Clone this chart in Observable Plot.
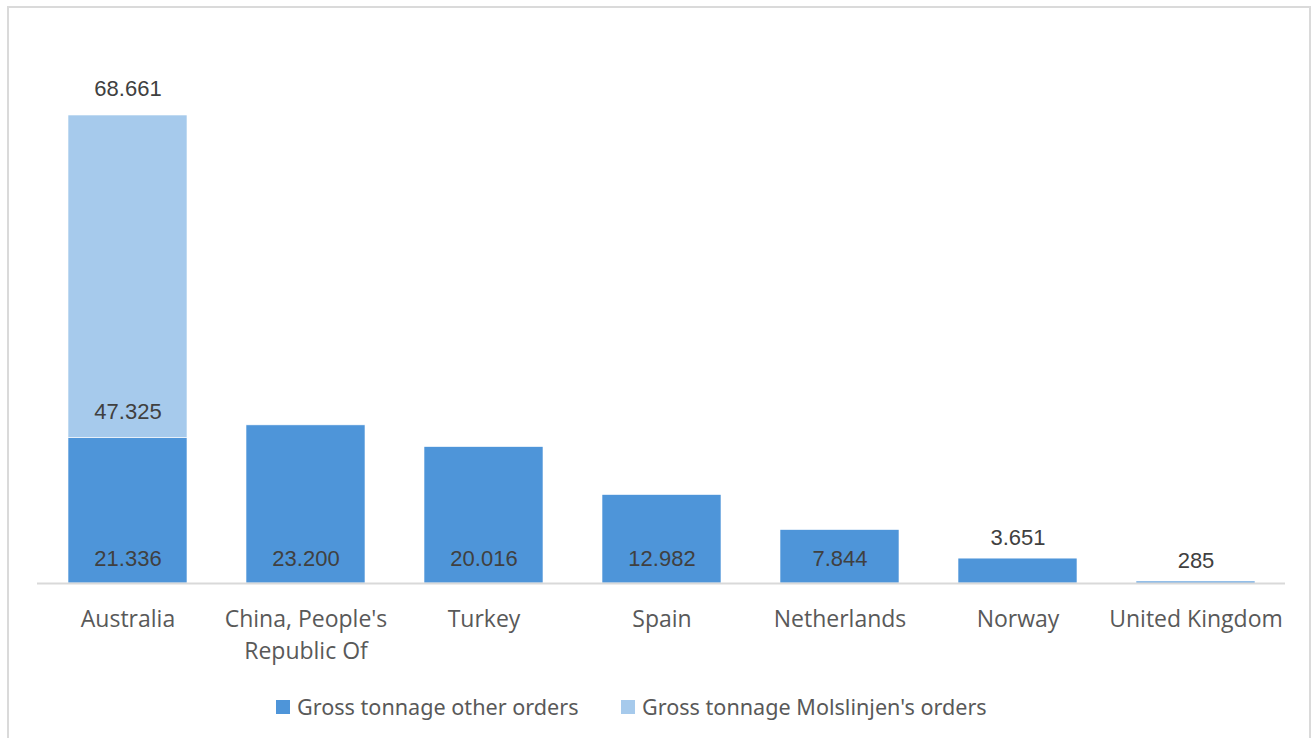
<!DOCTYPE html>
<html>
<head>
<meta charset="utf-8">
<script src="https://cdn.jsdelivr.net/npm/d3@7"></script>
<script src="https://cdn.jsdelivr.net/npm/@observablehq/plot@0.6"></script>
<style>
  html, body { margin: 0; padding: 0; background: #fff; }
  #wrap { position: relative; width: 1314px; height: 738px; overflow: hidden; background: #fff; }
  #frame { position: absolute; left: 7px; top: 6px; width: 1304px; height: 760px; border: 2px solid #dadada; box-sizing: border-box; }
  #chart { position: absolute; left: 0; top: 0; }
  .leg { position: absolute; top: 692px; display: flex; align-items: center; font-family: "Noto Sans", sans-serif; font-size: 21.6px; color: #595959; white-space: nowrap; }
  .sw { width: 14px; height: 14px; margin-right: 7px; }
</style>
</head>
<body>
<div id="wrap">
  <div id="frame"></div>
  <div id="chart"></div>
  <div id="legend"></div>
</div>
<script>
const countries = ["Australia", "China, People's Republic Of", "Turkey", "Spain", "Netherlands", "Norway", "United Kingdom"];
const axisLabels = ["Australia", "China, People's\nRepublic Of", "Turkey", "Spain", "Netherlands", "Norway", "United Kingdom"];
const otherOrders = [21336, 23200, 20016, 12982, 7844, 3651, 285];
const molslinjenOrders = [47325, 0, 0, 0, 0, 0, 0];
const seriesNames = ["Gross tonnage other orders", "Gross tonnage Molslinjen's orders"];
const seriesColors = ["#4E95D9", "#A6CAEC"];

const fmt = d3.formatLocale({decimal: ",", thousands: ".", grouping: [3], currency: ["", ""]}).format(",");

const rows = [];
countries.forEach((c, i) => {
  rows.push({country: c, series: seriesNames[0], value: otherOrders[i]});
  if (molslinjenOrders[i] > 0) rows.push({country: c, series: seriesNames[1], value: molslinjenOrders[i]});
});
const otherRows = countries.map((c, i) => ({country: c, value: otherOrders[i]}));
const molsRows = countries.map((c, i) => ({country: c, base: otherOrders[i], value: molslinjenOrders[i]})).filter(d => d.value > 0);
const totals = molsRows.map(d => ({country: d.country, total: d.base + d.value}));

const valFont = {fontFamily: "Liberation Sans, Arial, sans-serif", fontSize: 22, fill: "#404040"};

const plot = Plot.plot({
  width: 1314,
  height: 670,
  marginLeft: 37,
  marginRight: 29,
  marginTop: 37.71,
  marginBottom: 87,
  style: {background: "transparent", overflow: "visible"},
  x: {domain: countries, paddingInner: 0.333, paddingOuter: 0.1667, axis: null},
  y: {domain: [0, 80000], axis: null},
  color: {domain: seriesNames, range: seriesColors},
  marks: [
    Plot.barY(rows, {x: "country", y: "value", fill: "series", stroke: "#ffffff", strokeWidth: 0.6}),
    Plot.ruleY([0], {stroke: "#d9d9d9", strokeWidth: 2}),
    Plot.text(otherRows.filter(d => d.value >= 5000), {x: "country", y: () => 0, text: d => fmt(d.value), dy: -25, ...valFont}),
    Plot.text(otherRows.filter(d => d.value < 5000), {x: "country", y: "value", text: d => fmt(d.value), dy: -21, ...valFont}),
    Plot.text(molsRows, {x: "country", y: "base", text: d => fmt(d.value), dy: -26, ...valFont}),
    Plot.text(totals, {x: "country", y: "total", text: d => fmt(d.total), dy: -27, ...valFont}),
    Plot.text(countries, {x: d => d, text: (d, i) => axisLabels[i], frameAnchor: "bottom", lineAnchor: "top", dy: 21, lineHeight: 1.39, fontSize: 23, fill: "#595959", fontFamily: "Open Sans, sans-serif"})
  ]
});
document.getElementById("chart").appendChild(plot);

const legend = document.getElementById("legend");
const legLeft = [276, 621];
seriesNames.forEach((s, i) => {
  const item = document.createElement("div");
  item.className = "leg";
  item.style.left = legLeft[i] + "px";
  item.innerHTML = `<div class="sw" style="background:${seriesColors[i]}"></div><span>${s}</span>`;
  legend.appendChild(item);
});
</script>
</body>
</html>
